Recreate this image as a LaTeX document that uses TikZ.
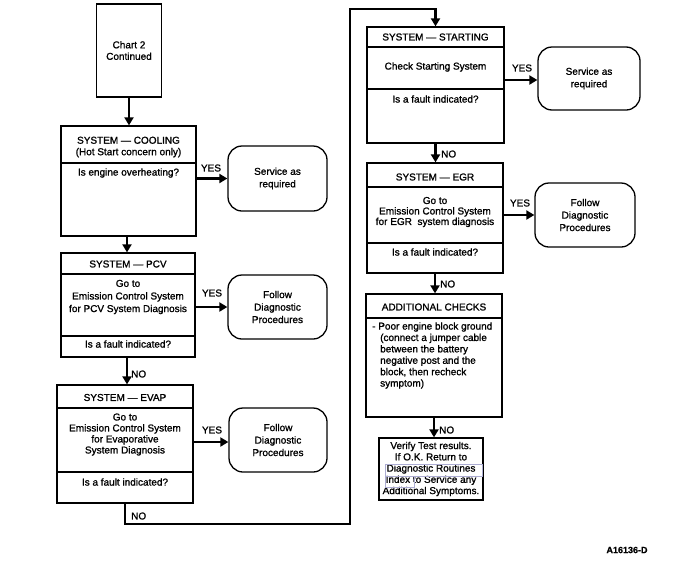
\documentclass[tikz,border=0pt]{standalone}
\usepackage{fontspec}
\setmainfont{Liberation Sans}[RawFeature={embolden=1.2}]
\usetikzlibrary{arrows.meta,calc}
\begin{document}
\begin{tikzpicture}[x=1pt,y=-1pt,
 box/.style={draw,line width=1.3pt,inner sep=0pt},
 rbox/.style={draw,line width=1.3pt,rounded corners=14pt,inner sep=0pt,align=center,font=\fontsize{10}{12.5}\selectfont},
 txt/.style={inner sep=0pt,align=center,font=\fontsize{10}{11.5}\selectfont},
 conn/.style={line width=2.2pt,-{Triangle[length=8pt,width=9pt]}},
 loopl/.style={line width=2.2pt,-{Triangle[length=8pt,width=9pt]},line join=miter},
 lbl/.style={inner sep=0pt,font=\fontsize{10}{12}\selectfont},
 divl/.style={line width=1.3pt},
 linkbox/.style={draw=blue!30!gray!50,line width=0.5pt}]
\useasboundingbox (0,0) rectangle (682,568);

% ---------- left column ----------
\node[box,txt,minimum width=65pt,minimum height=93pt] (chart) at (129,50.5) {Chart 2\\Continued};

\node[box,minimum width=135pt,minimum height=110pt] (cool) at (128.5,181) {};
\draw[divl] (cool.west |- 0,163) -- (cool.east |- 0,163);
\node[txt] (coolt) at (128.5,147) {SYSTEM — COOLING\\(Hot Start concern only)};
\node[txt] (coolq) at (128.5,173) {Is engine overheating?};
\node[rbox,minimum width=99pt,minimum height=65pt] (serv1) at (277.5,178.5) {Service as\\required};

\node[box,minimum width=134pt,minimum height=104pt] (pcv) at (128,305) {};
\draw[divl] (pcv.west |- 0,274) -- (pcv.east |- 0,274);
\draw[divl] (pcv.west |- 0,336) -- (pcv.east |- 0,336);
\node[txt] (pcvt) at (128,264) {SYSTEM — PCV};
\node[txt,font=\fontsize{10}{12.6}\selectfont] (pcvb) at (128,297) {Go to\\Emission Control System\\for PCV System Diagnosis};
\node[txt] (pcvq) at (128,344) {Is a fault indicated?};
\node[rbox,minimum width=99pt,minimum height=64pt] (fol1) at (277.5,307) {Follow\\Diagnostic\\Procedures};

\node[box,minimum width=136pt,minimum height=118pt] (evap) at (125,444) {};
\draw[divl] (evap.west |- 0,408) -- (evap.east |- 0,408);
\draw[divl] (evap.west |- 0,472) -- (evap.east |- 0,472);
\node[txt] (evapt) at (125,397.5) {SYSTEM — EVAP};
\node[txt,font=\fontsize{10}{11}\selectfont] (evapb) at (125,434.5) {Go to\\Emission Control System\\for Evaporative\\System Diagnosis};
\node[txt] (evapq) at (125,482) {Is a fault indicated?};
\node[rbox,minimum width=98pt,minimum height=64pt] (fol2) at (278,440) {Follow\\Diagnostic\\Procedures};

% ---------- right column ----------
\node[box,minimum width=137pt,minimum height=116pt] (start) at (435.5,85) {};
\draw[divl] (start.west |- 0,47) -- (start.east |- 0,47);
\draw[divl] (start.west |- 0,89) -- (start.east |- 0,89);
\node[txt] (startt) at (435.5,37) {SYSTEM — STARTING};
\node[txt] (startb) at (435.5,67) {Check Starting System};
\node[txt] (startq) at (435.5,99) {Is a fault indicated?};
\node[rbox,minimum width=102pt,minimum height=63pt] (serv2) at (589,78.5) {Service as\\required};

\node[box,minimum width=136pt,minimum height=110pt] (egr) at (435,218) {};
\draw[divl] (egr.west |- 0,187) -- (egr.east |- 0,187);
\draw[divl] (egr.west |- 0,243) -- (egr.east |- 0,243);
\node[txt] (egrt) at (435,177) {SYSTEM — EGR};
\node[txt,font=\fontsize{10}{10.5}\selectfont] (egrb) at (435,212) {Go to\\Emission Control System\\for EGR\ \ system diagnosis};
\node[txt] (egrq) at (435,252) {Is a fault indicated?};
\node[rbox,minimum width=100pt,minimum height=64pt] (fol3) at (585,215) {Follow\\Diagnostic\\Procedures};

\node[box,minimum width=136pt,minimum height=123pt] (add) at (434,355.5) {};
\draw[divl] (add.west |- 0,318) -- (add.east |- 0,318);
\node[txt] (addt) at (434,307) {ADDITIONAL CHECKS};
\node[txt,align=left,anchor=west,font=\fontsize{10}{11.4}\selectfont] (addb) at (372,355.5)
 {- Poor engine block ground\\
  \hspace*{8pt}(connect a jumper cable\\
  \hspace*{8pt}between the battery\\
  \hspace*{8pt}negative post and the\\
  \hspace*{8pt}block, then recheck\\
  \hspace*{8pt}symptom)};

\node[box,txt,minimum width=104pt,minimum height=62pt,font=\fontsize{10}{11.25}\selectfont] (fin) at (431,469)
 {Verify Test results.\\If O.K. Return to\\Diagnostic Routines\\Index to Service any\\Additional Symptoms.};
\draw[linkbox] (385,464) rectangle (482,476);
\draw[linkbox] (385,476) rectangle (414,487);

% ---------- connectors ----------
\draw[conn] (chart.south) -- (chart.south |- cool.north);
\draw[conn] (cool.east |- serv1.west) -- (serv1.west);
\draw[conn] (cool.south -| 127,0) -- (pcv.north -| 127,0);
\draw[conn] (pcv.east |- fol1.west) -- (fol1.west);
\draw[conn] (pcv.south -| 127,0) -- (evap.north -| 127,0);
\draw[conn] (evap.east |- 0,442) -- (fol2.west |- 0,442);

\coordinate (lb) at (125,524);
\coordinate (lt) at (350,9);
\draw[loopl] (evap.south) -- (evap.south |- lb) -- (lt |- lb) -- (lt) -| (start.north);

\draw[conn] (start.east |- 0,80) -- (serv2.west |- 0,80);
\draw[conn] (start.south) -- (start.south |- egr.north);
\draw[conn] (egr.east |- fol3.west) -- (fol3.west);
\draw[conn] (egr.south) -- (egr.south |- add.north);
\draw[conn] (add.south) -- (add.south |- fin.north);

% ---------- labels ----------
\node[lbl] (y1) at (211,168) {YES};
\node[lbl] (y2) at (212,293) {YES};
\node[lbl] (y3) at (212,430) {YES};
\node[lbl] (y4) at (522,68) {YES};
\node[lbl] (y5) at (520,203) {YES};
\node[lbl,anchor=west] (n1) at (131,374) {NO};
\node[lbl,anchor=west] (n2) at (131,516) {NO};
\node[lbl,anchor=west] (n3) at (441,154) {NO};
\node[lbl,anchor=west] (n4) at (440,284) {NO};
\node[lbl,anchor=west] (n5) at (439,430) {NO};

\node[inner sep=0pt,font=\fontsize{9}{10}\selectfont\bfseries] (code) at (627,550) {A16136-D};
\end{tikzpicture}
\end{document}
